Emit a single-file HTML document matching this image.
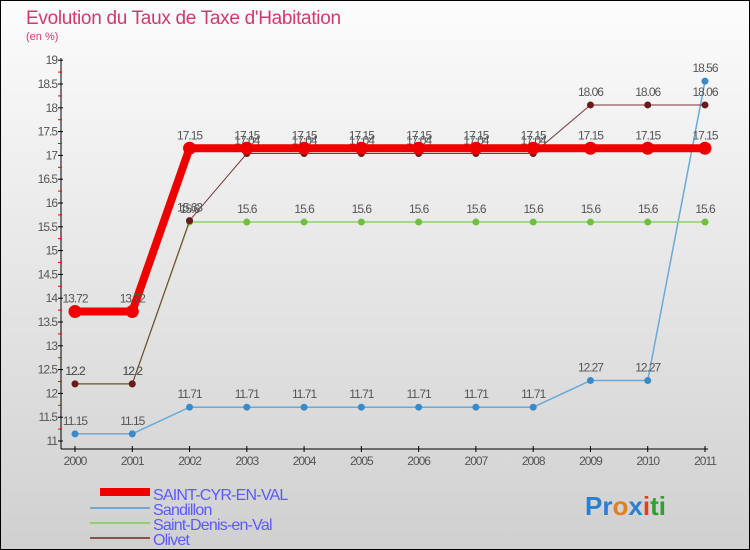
<!DOCTYPE html>
<html><head><meta charset="utf-8"><style>
body{margin:0;}
svg{display:block;font-family:"Liberation Sans",sans-serif;}
</style></head><body>
<svg width="750" height="550" viewBox="0 0 750 550">
<defs><linearGradient id="bg" x1="0" y1="0" x2="0" y2="1"><stop offset="0" stop-color="#fcfcfc"/><stop offset="1" stop-color="#d0d0d0"/></linearGradient></defs>
<rect x="0.5" y="0.5" width="749" height="549" fill="url(#bg)" stroke="#000"/>
<text x="26" y="24" font-size="19" fill="#d2386e" letter-spacing="-0.3">Evolution du Taux de Taxe d'Habitation</text>
<text x="26" y="40" font-size="11" fill="#d2386e">(en %)</text>
<g id="axes"></g>
<g id="series"></g>
<g>
<rect x="100" y="488" width="50" height="8" fill="#e00"/>
<text x="153" y="500" font-size="16" fill="#5a5aff" letter-spacing="-0.8">SAINT-CYR-EN-VAL</text>
<rect x="90" y="507" width="60" height="2" fill="#70a8d0"/>
<text x="153" y="515" font-size="16" fill="#5a5aff" letter-spacing="-0.8">Sandillon</text>
<rect x="90" y="522" width="60" height="2" fill="#90d070"/>
<text x="153" y="530" font-size="16" fill="#5a5aff" letter-spacing="-0.8">Saint-Denis-en-Val</text>
<rect x="90" y="537" width="60" height="2" fill="#8a5050"/>
<text x="153" y="545" font-size="16" fill="#5a5aff" letter-spacing="-0.8">Olivet</text>
</g>
<text x="585" y="515" font-size="26" font-weight="bold"><tspan fill="#2a80d0">Pr</tspan><tspan fill="#e08020">o</tspan><tspan fill="#2a80d0">x</tspan><tspan fill="#e04020">i</tspan><tspan fill="#30a030">ti</tspan></text>
</svg>
<script>
const years=["2000","2001","2002","2003","2004","2005","2006","2007","2008","2009","2010","2011"];
const saintCyr=[13.72,13.72,17.15,17.15,17.15,17.15,17.15,17.15,17.15,17.15,17.15,17.15];
const sandillon=[11.15,11.15,11.71,11.71,11.71,11.71,11.71,11.71,11.71,12.27,12.27,18.56];
const saintDenis=[12.2,12.2,15.6,15.6,15.6,15.6,15.6,15.6,15.6,15.6,15.6,15.6];
const olivet=[12.2,12.2,15.63,17.04,17.04,17.04,17.04,17.04,17.04,18.06,18.06,18.06];
const yTicks=["11","11.5","12","12.5","13","13.5","14","14.5","15","15.5","16","16.5","17","17.5","18","18.5","19"];
const NS="http://www.w3.org/2000/svg";
const x=i=>75+i*(630/11);
const y=v=>441-(v-11)*47.6;
function mk(t,a,p){const e=document.createElementNS(NS,t);for(const k in a)e.setAttribute(k,a[k]);p.appendChild(e);return e;}
const ax=document.getElementById('axes');
let l=mk('line',{x1:61,y1:58,x2:61,y2:449,stroke:'#000'},ax);


l=mk('line',{x1:61,y1:449,x2:708,y2:449,stroke:'#000'},ax);


yTicks.forEach((t,i)=>{const v=parseFloat(t);const yy=y(v);
mk('line',{x1:58,y1:yy,x2:63,y2:yy,stroke:'#000'},ax);
if(i<yTicks.length-1)mk('line',{x1:58,y1:y(v+0.25),x2:62,y2:y(v+0.25),stroke:'#e00'},ax);
const tx=mk('text',{x:57,y:yy+4,'font-size':12,'text-anchor':'end',fill:'#555','letter-spacing':'-1'},ax);tx.textContent=t;

});
years.forEach((t,i)=>{mk('line',{x1:x(i),y1:446,x2:x(i),y2:452,stroke:'#000'},ax);
const tx=mk('text',{x:x(i),y:465,'font-size':12,'text-anchor':'middle',fill:'#555','letter-spacing':'-1'},ax);tx.textContent=t;

});
const sg=document.getElementById('series');
function series(name,data,color,w,r,fill,lab){
const g=mk('g',{},sg);


const p=mk('polyline',{points:data.map((v,i)=>x(i)+','+y(v)).join(' '),fill:'none',stroke:color,'stroke-width':w},g);


data.forEach((v,i)=>{const c=mk('circle',{cx:x(i),cy:y(v),r:r,fill:fill},g);


if(lab){const t=mk('text',{x:x(i),y:y(v)-9,'font-size':12,'text-anchor':'middle',fill:'#555','letter-spacing':'-1'},g);t.textContent=String(v);

}});}
series('sandillon',sandillon,'#6aaad8',1.5,3.5,'#3a8ac8',true);
series('saint-denis',saintDenis,'#90d070',1.5,3.5,'#70c040',true);
series('olivet',olivet,'#7a3535',1,3.5,'#6a1a1a',true);
series('saint-cyr',saintCyr,'#ee0000',8,6.5,'#ee0000',true);
</script>
</body></html>
